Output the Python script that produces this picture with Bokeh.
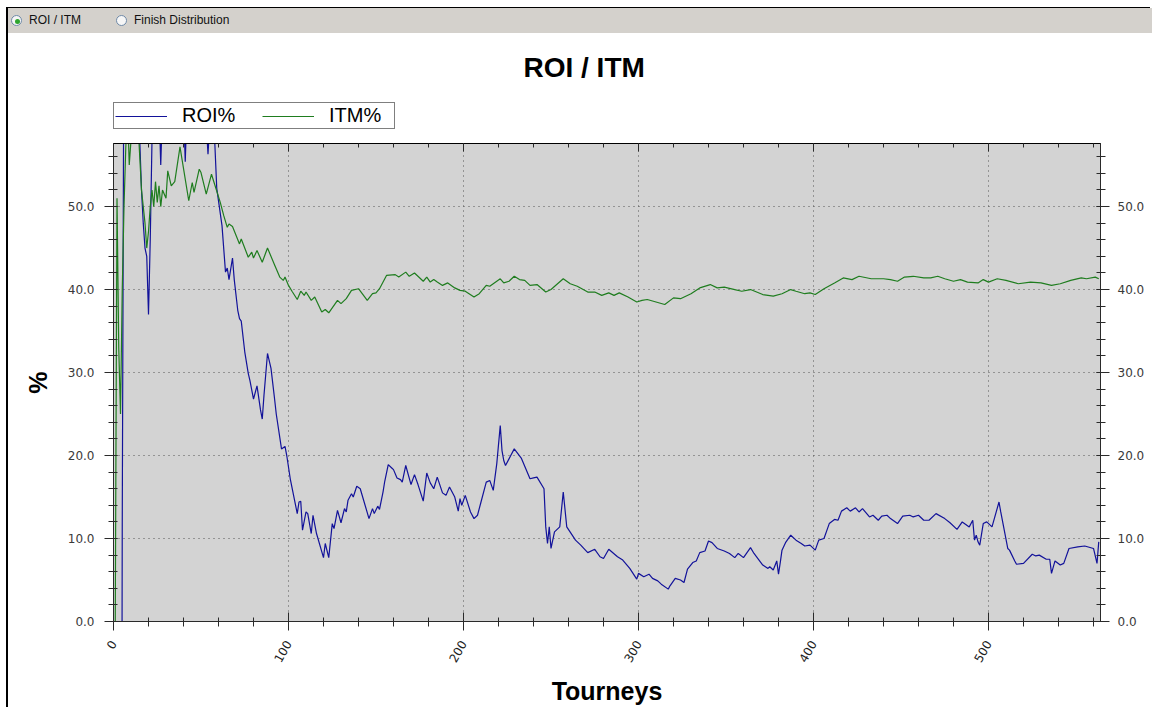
import math
from bokeh.plotting import figure
from bokeh.models import (Range1d, LinearAxis, FixedTicker, NumeralTickFormatter,
                          Legend, LegendItem, Div, Label)
from bokeh.layouts import column
from bokeh.embed import file_html
from bokeh.resources import INLINE

# ---------------- data ----------------
roi_tourney = [1, 4, 5, 6, 14, 15, 16, 17, 18, 19, 20, 21, 22, 23, 26, 27, 28, 35, 40, 41, 42, 50, 53, 54, 55, 57,
               59, 62, 64, 65, 66, 68, 69, 71, 72, 73, 75, 77, 78, 80, 82, 84, 85, 86, 88, 90, 92, 93, 96, 98, 99,
               101, 105, 106, 107, 108, 110, 111, 113, 114, 116, 120, 121, 123, 125, 126, 128, 130, 132, 133, 134,
               136, 137, 139, 141, 146, 148, 149, 151, 152, 154, 155, 157, 159, 160, 162, 164, 165, 167, 170, 172,
               174, 177, 179, 181, 183, 185, 188, 190, 192, 195, 197, 198, 199, 201, 204, 206, 208, 210, 213, 215,
               216, 217, 219, 221, 222, 223, 224, 226, 227, 229, 233, 238, 240, 242, 246, 247, 248, 249, 250, 252,
               255, 257, 259, 264, 267, 271, 275, 278, 280, 283, 288, 291, 295, 299, 300, 303, 306, 308, 311, 313,
               317, 318, 321, 324, 326, 328, 331, 333, 335, 338, 340, 342, 345, 349, 352, 355, 357, 360, 364, 366,
               371, 374, 375, 377, 379, 380, 381, 382, 384, 387, 390, 393, 395, 398, 401, 403, 406, 409, 412, 414,
               416, 419, 421, 424, 426, 428, 432, 434, 437, 439, 442, 444, 448, 451, 455, 457, 460, 463, 466, 470,
               475, 478, 482, 485, 489, 491, 492, 493, 494, 495, 497, 499, 502, 506, 507, 511, 512, 515, 516, 520,
               525, 527, 529, 533, 535, 536, 538, 541, 543, 546, 551, 555, 560, 562, 563]
roi_pct = [-100, -100, 11.6, 75, 70, 58, 52, 48, 45, 44, 37, 46, 58, 68, 62, 55, 62, 70, 62, 55.4, 62, 68, 60, 56.3,
           60, 62, 52.2, 47.7, 42.1, 42.6, 41.2, 43.8, 41.2, 37.5, 36.5, 36.2, 32.5, 29.9, 29.0, 26.8, 28.4, 25.5,
           24.4, 27.3, 32.3, 30.5, 26.9, 25.0, 20.8, 21.1, 20.0, 17.2, 13.0, 14.4, 14.5, 11.0, 13.2, 13.0, 10.6,
           12.8, 10.6, 7.7, 9.4, 7.7, 11.8, 11.2, 13.4, 11.9, 13.6, 13.2, 14.6, 15.4, 15.0, 16.3, 16.0, 12.4, 13.6,
           13.0, 13.9, 13.5, 15.6, 16.9, 18.9, 18.5, 18.3, 17.3, 17.1, 16.8, 18.8, 16.5, 17.7, 16.5, 14.5, 17.9,
           16.7, 16.0, 17.4, 15.5, 15.2, 16.2, 15.0, 13.3, 14.8, 14.0, 15.2, 13.2, 12.4, 12.8, 14.4, 16.8, 17.0,
           16.4, 15.8, 19.0, 23.6, 20.6, 19.4, 18.8, 19.6, 20.0, 20.8, 19.7, 17.2, 17.3, 17.4, 16.0, 11.4, 9.4,
           11.4, 8.8, 10.8, 11.4, 15.6, 11.4, 9.8, 9.2, 8.3, 8.7, 7.8, 7.6, 8.7, 7.8, 7.4, 6.4, 5.1, 5.8, 5.4, 5.7,
           5.2, 4.9, 4.5, 3.9, 4.3, 5.2, 5.0, 4.7, 6.3, 7.1, 7.3, 8.3, 8.5, 9.7, 9.5, 8.8, 8.5, 8.2, 7.7, 8.2, 7.7,
           8.9, 8.2, 6.8, 6.4, 6.6, 6.2, 7.3, 5.7, 7.1, 8.6, 9.5, 10.4, 9.8, 9.4, 9.1, 9.2, 8.6, 9.8, 10.0, 11.8,
           12.3, 12.2, 13.3, 13.7, 13.3, 13.7, 13.2, 13.6, 12.6, 12.8, 12.2, 12.7, 12.8, 12.4, 11.8, 12.7, 12.8,
           12.6, 12.8, 12.2, 12.2, 13.0, 12.4, 11.9, 11.1, 12.0, 11.4, 12.2, 9.8, 10.4, 9.6, 9.2, 11.8, 12.0, 11.4,
           14.4, 13.2, 8.8, 8.6, 7.3, 6.9, 7.0, 8.1, 7.9, 8.0, 7.5, 7.5, 5.8, 7.3, 6.8, 7.0, 8.8, 9.0, 9.1, 8.8,
           7.0, 9.6]

itm_tourney = [1, 2, 3, 4, 5, 6, 7, 8, 9, 10, 11, 13, 14, 15, 16, 17, 18, 19, 20, 21, 22, 23, 24, 25, 26, 27, 28,
               30, 31, 33, 35, 38, 43, 45, 46, 49, 50, 53, 56, 61, 63, 65, 66, 68, 72, 73, 77, 79, 80, 82, 85, 88,
               92, 95, 97, 98, 100, 102, 105, 107, 109, 110, 113, 115, 119, 121, 123, 128, 130, 133, 136, 140, 145,
               148, 150, 152, 156, 161, 163, 167, 169, 172, 177, 179, 181, 183, 185, 188, 191, 195, 198, 201, 206,
               209, 213, 215, 217, 221, 223, 226, 229, 232, 235, 238, 242, 247, 250, 257, 261, 265, 271, 275, 279,
               283, 286, 289, 294, 299, 302, 305, 310, 315, 320, 324, 330, 335, 341, 345, 349, 355, 359, 364, 371,
               377, 382, 387, 390, 395, 398, 401, 406, 412, 417, 422, 426, 433, 440, 444, 448, 452, 457, 463, 467,
               471, 475, 480, 484, 488, 494, 497, 500, 505, 510, 517, 524, 530, 536, 541, 547, 553, 556, 561, 563]
itm_pct = [0, 51, 33, 25, 40, 50, 57, 62, 55, 58, 64, 66, 60, 56, 52, 50, 48, 45, 47, 50, 52, 50, 53, 50.5, 52.5,
           50, 52, 51, 54.3, 52.5, 53, 57.2, 50.7, 52.9, 51.7, 54.5, 54.1, 51.5, 53.9, 50.5, 48.9, 47.5, 47.9,
           47.6, 45.5, 46.1, 43.9, 44.5, 43.8, 44.7, 43.3, 45.0, 43.0, 41.5, 41.1, 41.5, 40.5, 39.8, 38.8, 39.8,
           39.3, 39.7, 38.7, 39.1, 37.3, 37.6, 37.2, 38.7, 38.3, 38.9, 39.9, 40.1, 38.7, 39.5, 39.6, 40.1, 41.7,
           41.8, 41.5, 42.1, 41.6, 42.0, 41.0, 41.5, 40.9, 41.2, 40.9, 40.5, 40.8, 40.2, 39.9, 39.8, 39.1, 39.5,
           40.5, 40.4, 40.7, 41.3, 40.8, 41.0, 41.6, 41.2, 41.1, 40.5, 40.6, 39.7, 40.0, 41.3, 40.7, 40.4, 39.7,
           39.7, 39.3, 39.6, 39.3, 39.6, 39.1, 38.5, 38.7, 38.8, 38.5, 38.2, 39.0, 38.9, 39.5, 40.2, 40.6, 40.2,
           40.3, 40.0, 39.8, 40.0, 39.4, 39.2, 39.5, 40.0, 39.8, 39.5, 39.6, 39.4, 40.1, 40.8, 41.4, 41.2, 41.6,
           41.3, 41.3, 41.2, 41.0, 41.5, 41.6, 41.4, 41.4, 41.6, 41.3, 41.0, 41.2, 40.9, 40.8, 41.2, 40.9, 41.3,
           41.1, 40.7, 40.9, 40.8, 40.5, 40.7, 41.1, 41.4, 41.3, 41.5, 41.3]

series_names = ["ROI%", "ITM%"]
tab_labels = ["ROI / ITM", "Finish Distribution"]
chart_title = "ROI / ITM"
y_major = [0, 10, 20, 30, 40, 50]
y_minor = list(range(0, 57, 2))
x_major = [0, 100, 200, 300, 400, 500]
x_minor = list(range(0, 561, 20))

ROI_COLOR = "#12129a"
ITM_COLOR = "#1f7d1f"
AXIS_COLOR = "#2a2a2a"
FONT = "Liberation Sans"
W = 1144
BL, FW = 105, 987          # left border / frame width
BR = W - BL - FW

# ---------------- top tab bar (HTML) ----------------
def radio(checked):
    dot = ('<span style="position:absolute;left:3px;top:3px;width:5px;height:5px;'
           'border-radius:50%;background:#2fa52f;"></span>') if checked else ''
    return ('<span style="position:relative;display:inline-block;width:11px;height:11px;'
            'border-radius:50%;border:1px solid #6f8aa8;background:#f6f6f6;'
            'vertical-align:middle;margin-right:7px;">' + dot + '</span>')

tabs_html = ''.join(
    '<span style="display:inline-flex;align-items:center;margin-right:%dpx;">%s<span>%s</span></span>'
    % (35 if i == 0 else 0, radio(i == 0), lab)
    for i, lab in enumerate(tab_labels))
bar = Div(text=('<div style="width:%dpx;height:25px;background:#d4d1cc;display:flex;'
                'align-items:center;padding-left:3px;box-sizing:border-box;'
                'font-family:\'Liberation Sans\';font-size:12px;color:#111;">' % W + tabs_html + '</div>'),
          width=W, height=25, margin=0)

# ---------------- header: title + legend ----------------
HDR_H = 100
# the header's ranges lie outside the data, so the series lines there only feed the legend
hdr = figure(width=W, height=HDR_H, x_range=Range1d(-3, -2), y_range=Range1d(0, 1),
             toolbar_location=None, output_backend="svg",
             min_border_left=BL, min_border_right=BR, min_border_top=0, min_border_bottom=0,
             x_axis_type=None, y_axis_type=None, background_fill_color="white",
             border_fill_color="white")
hdr.outline_line_color = None
hdr.grid.visible = False
lr = hdr.line(roi_tourney, roi_pct, line_color=ROI_COLOR, line_width=1.2)
li = hdr.line(itm_tourney, itm_pct, line_color=ITM_COLOR, line_width=1.2)
hdr.add_layout(Label(x=410, y=66, x_units="screen", y_units="screen", text=chart_title,
                     text_font=FONT, text_font_size="28px", text_font_style="bold",
                     text_color="black", text_baseline="alphabetic"))
legend = Legend(items=[LegendItem(label=series_names[0], renderers=[lr]),
                       LegendItem(label=series_names[1], renderers=[li])],
                location=(0, 4), orientation="horizontal", margin=0, padding=1,
                glyph_width=52, glyph_height=18, label_standoff=15, label_width=64, spacing=16,
                label_text_font=FONT, label_text_font_size="20px", label_text_color="black",
                border_line_color="black", border_line_width=1, background_fill_color="white",
                background_fill_alpha=1)
hdr.add_layout(legend)

# ---------------- main chart ----------------
TOP_B = 10
p = figure(width=W, height=TOP_B + 478 + 87, x_range=Range1d(0, 564), y_range=Range1d(0, 57.6),
           toolbar_location=None, output_backend="svg",
           min_border_left=BL, min_border_right=BR, min_border_top=TOP_B, min_border_bottom=87,
           background_fill_color="#d3d3d3", border_fill_color="white")
p.outline_line_color = AXIS_COLOR

xticker = FixedTicker(ticks=x_major, minor_ticks=x_minor)
yticker = FixedTicker(ticks=y_major, minor_ticks=y_minor)

bottom = p.below[0]
left = p.left[0]
bottom.ticker = xticker
left.ticker = yticker
left.formatter = NumeralTickFormatter(format="0.0")

right = LinearAxis(ticker=yticker, formatter=NumeralTickFormatter(format="0.0"))
p.add_layout(right, "right")
top = LinearAxis(ticker=xticker)
p.add_layout(top, "above")

for ax in (bottom, left, right, top):
    ax.axis_line_color = AXIS_COLOR
    ax.major_tick_line_color = AXIS_COLOR
    ax.minor_tick_line_color = AXIS_COLOR
    ax.major_label_text_font = "DejaVu Sans"
    ax.major_label_text_font_size = "12px"
    ax.major_label_text_color = "#3a3a3a"
    ax.axis_label_text_font = FONT
    ax.axis_label_text_font_style = "bold"
    ax.axis_label_text_font_size = "25px"
    ax.axis_label_text_color = "black"

for ax in (left, right, bottom):
    ax.major_tick_out = 9
    ax.major_tick_in = 4
    ax.minor_tick_out = 5
    ax.minor_tick_in = 4
    ax.major_label_standoff = 8
left.major_label_standoff = 10
bottom.major_label_standoff = 11
bottom.major_tick_in = 9
bottom.major_label_orientation = math.pi / 3
bottom.major_label_text_color = "#222222"
bottom.axis_label = "Tourneys"
bottom.axis_label_standoff = 8
left.axis_label = "%"
left.axis_label_standoff = 13

top.major_tick_out = 0
top.minor_tick_out = 0
top.major_tick_in = 8
top.minor_tick_in = 4
top.major_label_text_alpha = 0
top.major_label_text_font_size = "1px"
top.major_label_standoff = 0
top.axis_line_color = "black"

p.xgrid.ticker = xticker
p.ygrid.ticker = yticker
p.grid.grid_line_color = "#555555"
p.grid.grid_line_dash = "1 4"
p.grid.grid_line_width = 1

p.line(roi_tourney, roi_pct, line_color=ROI_COLOR, line_width=1.2)
p.line(itm_tourney, itm_pct, line_color=ITM_COLOR, line_width=1.2)

layout = column(bar, hdr, p, spacing=0, margin=(8, 0, 0, 8),
                styles={"box-shadow": "-2px -1px 0 0 #000"})

open("out.html", "w").write(file_html(layout, INLINE))
